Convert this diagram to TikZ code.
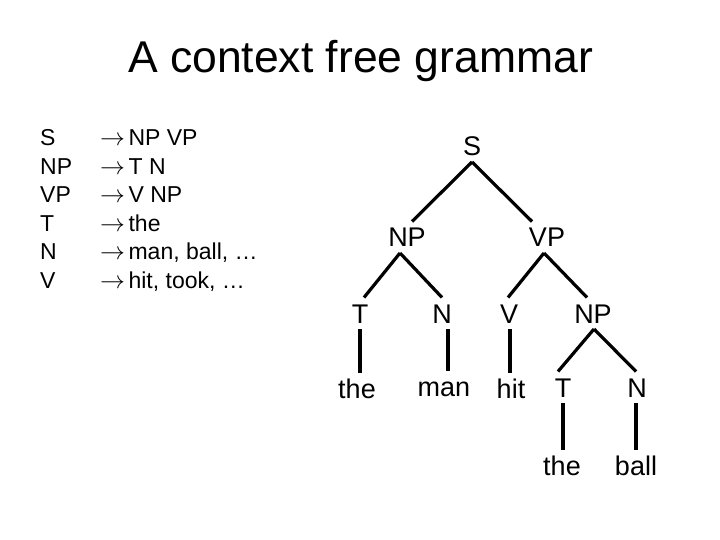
\documentclass[tikz,border=0pt]{standalone}
\usepackage{fontspec}
\setmainfont{Liberation Sans}
\newcommand{\grarrow}{$\rightarrow$\hspace{3.5pt}}
\begin{document}
\begin{tikzpicture}[x=1pt,y=-1pt,
  titletext/.style={font=\fontsize{44.5}{50}\selectfont, inner sep=0pt, anchor=base},
  gram/.style={font=\fontsize{23}{28}\selectfont, inner sep=0pt, anchor=base west},
  tree/.style={font=\fontsize{27}{32}\selectfont, inner sep=0pt, outer sep=6pt,
    text height=19.5pt, text depth=0pt, anchor=base},
  edge/.style={line width=3.2pt}]
\useasboundingbox[fill=white] (0,0) rectangle (720,540);

\node[titletext] (title) at (360.5,73) {A context free grammar};

% grammar rules
\node[gram] (l1) at (40,146) {S};
\node[gram] (l2) at (40,174.4) {NP};
\node[gram] (l3) at (40,202.8) {VP};
\node[gram] (l4) at (40,231.2) {T};
\node[gram] (l5) at (40,259.6) {N};
\node[gram] (l6) at (40,288) {V};
\node[gram] (r1) at (100,146) {\grarrow NP VP};
\node[gram] (r2) at (100,174.4) {\grarrow T N};
\node[gram] (r3) at (100,202.8) {\grarrow V NP};
\node[gram] (r4) at (100,231.2) {\grarrow the};
\node[gram] (r5) at (100,259.6) {\grarrow man, ball, …};
\node[gram] (r6) at (100,288) {\grarrow hit, took, …};

% tree
\node[tree] (s) at (472,156) {S};
\node[tree] (np) at (407,247) {NP};
\node[tree] (vp) at (547,247) {VP};
\node[tree] (t1) at (360,323) {T};
\node[tree] (n1) at (442,323) {N};
\node[tree] (v) at (509,323) {V};
\node[tree] (np2) at (593,323) {NP};
\node[tree] (the1) at (357,398) {the};
\node[tree] (man) at (444,396) {man};
\node[tree] (hit) at (511,398) {hit};
\node[tree] (t2) at (563,397) {T};
\node[tree] (n2) at (637,397) {N};
\node[tree] (the2) at (562,475) {the};
\node[tree] (ball) at (636,475) {ball};

\draw[edge] (s.south) -- ([xshift=5pt]np.north);
\draw[edge] (s.south) -- ([xshift=-15pt]vp.north);
\draw[edge] ([xshift=-7pt]np.south) -- ([xshift=4pt]t1.north);
\draw[edge] ([xshift=-7pt]np.south) -- (n1.north);
\draw[edge] ([xshift=-3pt]vp.south) -- ([xshift=-1pt]v.north);
\draw[edge] ([xshift=-3pt]vp.south) -- ([xshift=-6pt]np2.north);
\draw[edge] ([xshift=1pt]np2.south) -- ([xshift=-5pt]t2.north);
\draw[edge] ([xshift=1pt]np2.south) -- ([xshift=-1pt]n2.north);

\coordinate (n1b) at ([xshift=6pt]n1.south);
\coordinate (v1b) at ([xshift=1pt]v.south);
\coordinate (n2b) at ([xshift=-1pt]n2.south);
\draw[edge] (t1.south) -- (t1.south |- the1.north);
\draw[edge] (n1b) -- (n1b |- man.north);
\draw[edge] (v1b) -- (v1b |- hit.north);
\draw[edge] (t2.south) -- (t2.south |- the2.north);
\draw[edge] (n2b) -- (n2b |- ball.north);
\end{tikzpicture}
\end{document}
